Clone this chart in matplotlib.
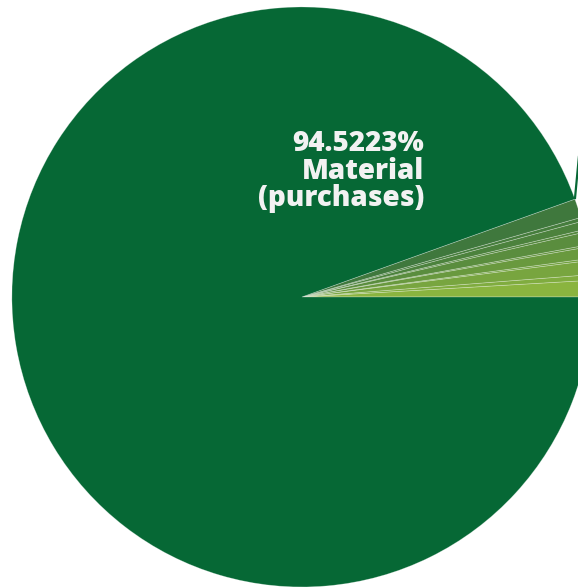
import matplotlib
matplotlib.use("Agg")
import matplotlib.pyplot as plt
import numpy as np

# Cost breakdown (percent of total)
categories = [
    "Other 1", "Other 2", "Other 3", "Other 4", "Other 5", "Other 6",
    "Other 7", "Other 8", "Other 9", "Other 10", "Other 11",
    "Material\n(purchases)",
]
values = [0.92, 0.31, 0.78, 0.11, 0.64, 0.11, 0.72, 0.14, 0.47, 0.22, 1.0577, 94.5223]
colors = [
    "#8ab43f", "#80ac3f", "#78a53f", "#70a03e", "#69993e", "#62933e",
    "#5a8d3e", "#53873d", "#4c823d", "#467d3d", "#3f783d", "#066835",
]

fig = plt.figure(figsize=(5.78, 5.87), dpi=100)
ax = fig.add_axes([0, 0, 1, 1])

wedges, _ = ax.pie(
    values,
    colors=colors,
    startangle=0,
    counterclock=True,
    radius=1.0,
    wedgeprops=dict(edgecolor=(1, 1, 1, 0.35), linewidth=0.5),
)

# leader line leaving the edge of the small-slice group
theta = np.deg2rad(wedges[-2].theta2)
x0, y0 = np.cos(theta), np.sin(theta)
ang = np.deg2rad(84.6)
ax.plot([x0, x0 + 0.4 * np.cos(ang)], [y0, y0 + 0.4 * np.sin(ang)],
        color="#066835", linewidth=1.6, solid_capstyle="butt")

main_label = f"{values[-1]:.4f}%\n{categories[-1]}"
ax.text(0.421, 0.434, main_label, ha="right", va="center",
        color="#f2f2f2", fontsize=20, fontweight="heavy",
        family=["Open Sans", "DejaVu Sans"], linespacing=0.92)

ax.set_xlim(-1.041, 0.952)
ax.set_ylim(-1.0, 1.024)
ax.set_aspect("equal")
ax.axis("off")

fig.savefig("out.png", dpi=100)
